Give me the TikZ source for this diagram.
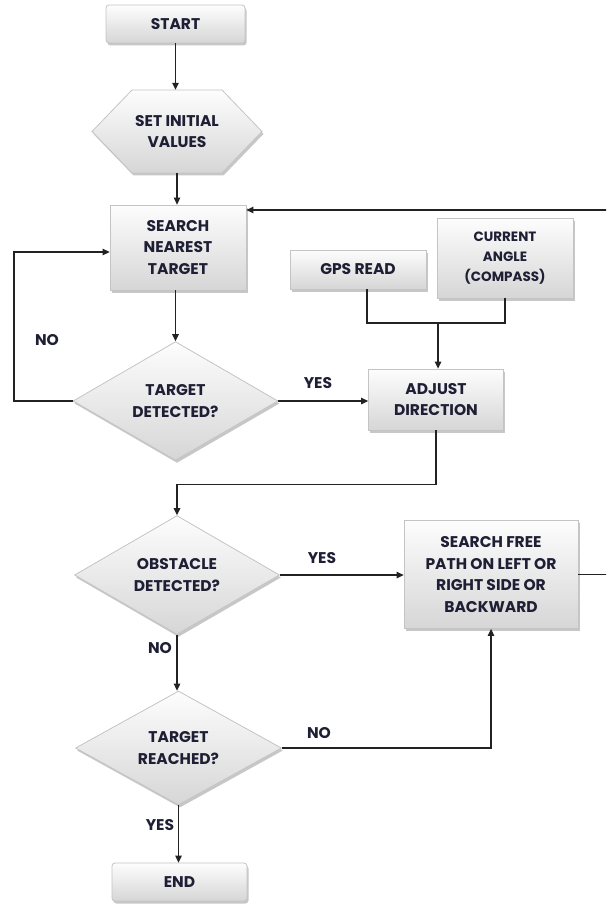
\documentclass[tikz,border=0pt]{standalone}
\usepackage{fontspec}
\setmainfont{Poppins}
\usetikzlibrary{arrows.meta,calc,positioning,shapes.geometric,shadows}
\definecolor{fcInk}{RGB}{30,30,52}
\definecolor{fcEdge}{RGB}{196,196,196}
\definecolor{fcTop}{RGB}{253,253,253}
\definecolor{fcBot}{RGB}{214,214,214}
\definecolor{fcLine}{RGB}{34,34,34}
\newcommand{\flowfont}{\fontsize{15.5}{21.5}\selectfont\bfseries}
\newcommand{\smallflowfont}{\fontsize{13.5}{20}\selectfont\bfseries}
\tikzset{
  fcshade/.style={top color=fcTop, bottom color=fcBot, draw=fcEdge, line width=0.8pt,
    drop shadow={shadow xshift=1.5pt, shadow yshift=-2.5pt, fill=black, opacity=0.22}},
  procbox/.style={rectangle, fcshade, align=center, inner sep=0pt},
  termbox/.style={procbox, rounded corners=3pt},
  decide/.style={diamond, fcshade, align=center, inner sep=0pt,
    minimum width=205pt, minimum height=116pt},
  hexnode/.style={rectangle, align=center, inner sep=0pt,
    minimum width=170pt, minimum height=83pt},
  flow/.style={draw=fcLine, line width=1.3pt},
  arr/.style={flow, -{Triangle[length=7pt,width=6.5pt]}},
  tag/.style={inner sep=0pt}
}

\begin{document}
\begin{tikzpicture}[x=1pt,y=-1pt,every node/.style={text=fcInk,font=\flowfont}]
  \useasboundingbox (0,0) rectangle (606,904);
  \clip (0,0) rectangle (606,904);

  % hexagon behind the init node
  \shade[fcshade] (92,131.5) -- (132,90) -- (222,90) -- (262,131.5) -- (222,173) -- (132,173) -- cycle;

  \node[termbox, minimum width=139pt, minimum height=38pt] (start) at (175.5,24) {START};
  \node[hexnode] (init) at (177,131.5) {SET INITIAL\\VALUES};
  \node[procbox, minimum width=136pt, minimum height=85pt] (search) at (178,247.5) {SEARCH\\NEAREST\\TARGET};
  \node[decide] (detect) at (175.5,401) {TARGET\\DETECTED?};
  \node[procbox, minimum width=136pt, minimum height=39pt] (gps) at (358,269.5) {GPS READ};
  \node[procbox, minimum width=136pt, minimum height=80pt, font=\smallflowfont] (compass) at (505,258) {CURRENT\\ANGLE\\(COMPASS)};
  \node[procbox, minimum width=135pt, minimum height=61pt] (adjust) at (436,399.5) {ADJUST\\DIRECTION};
  \node[decide] (obst) at (177,575) {OBSTACLE\\DETECTED?};
  \node[procbox, minimum width=174pt, minimum height=108pt] (free) at (491,574.5) {SEARCH FREE\\PATH ON LEFT OR\\RIGHT SIDE OR\\BACKWARD};
  \node[decide, minimum width=206pt, minimum height=114pt] (reached) at (178.5,748) {TARGET\\REACHED?};
  \node[termbox, minimum width=135pt, minimum height=38pt] (end) at (179.5,882) {END};

  % branch labels
  \node[tag] (noloop) at (47,340) {NO};
  \node[tag] (yesdet) at (318,383) {YES};
  \node[tag] (yesobs) at (322,558) {YES};
  \node[tag] (noobs) at (160,648) {NO};
  \node[tag] (noreach) at (319,733) {NO};
  \node[tag] (yesreach) at (160,825) {YES};

  \coordinate (lft) at (14,252);
  \coordinate (merge) at (438,323);
  \coordinate (rtop) at (609,210);

  \draw[arr] (start.south) -- (start.south |- init.north);
  \draw[arr] (init.south) -- (init.south |- search.north);
  \draw[arr] (detect.north |- search.south) -- (detect.north);
  \draw[arr] (detect.west) -| (lft) -- (lft -| search.west);
  \draw[arr] (detect.east) -- (detect.east -| adjust.west);
  \draw[flow] ([xshift=9pt]gps.south) |- (merge);
  \draw[flow] (compass.south) |- (merge);
  \draw[arr] (merge) -- (merge |- adjust.north);
  \draw[arr] (adjust.south) -- ++(0,54) -| (obst.north);
  \draw[arr] (obst.east) -- (obst.east -| free.west);
  \draw[arr] (obst.south) -- (obst.south |- reached.north);
  \draw[arr] (reached.east) -| (free.south);
  \draw[arr] (reached.south) -- (reached.south |- end.north);
  \draw[arr] (free.east) -| (rtop) -- (rtop -| search.east);
\end{tikzpicture}
\end{document}
